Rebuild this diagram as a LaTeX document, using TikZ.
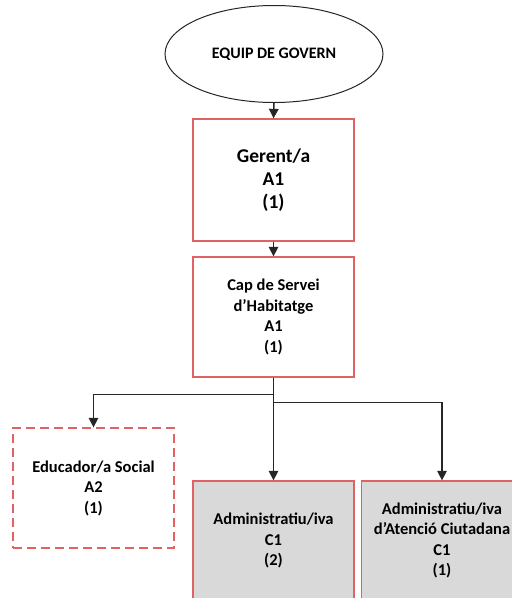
\documentclass[tikz,border=0pt]{standalone}
\usepackage{fontspec}
\setmainfont{Carlito}
\usetikzlibrary{arrows.meta,shapes.geometric}
\definecolor{boxred}{HTML}{E06262}
\definecolor{boxgray}{HTML}{D9D9D9}
\definecolor{linegray}{HTML}{262626}
\tikzset{
  unit/.style={draw=boxred, line width=1.3pt, minimum width=161pt, inner sep=0pt, align=center, font=\bfseries\fontsize{16.5}{20.5}\selectfont},
  headbox/.style={unit, minimum height=122pt, font=\bfseries\fontsize{19.5}{23}\selectfont},
  dashbox/.style={unit, dash pattern=on 9pt off 5pt},
  graybox/.style={unit, fill=boxgray},
  conn/.style={draw=linegray, line width=1.5pt, -{Triangle[width=9.5pt,length=9.5pt]}}
}
\begin{document}
\begin{tikzpicture}[x=1pt,y=-1pt]
\useasboundingbox (0,0) rectangle (512,598);
\clip (0,0) rectangle (512,598);
\node[ellipse, draw=linegray, line width=1pt, minimum width=218pt, minimum height=97pt, inner sep=0pt, font=\bfseries\fontsize{16}{19}\selectfont] (eq) at (274,54) {EQUIP DE GOVERN};
\node[headbox] (ger) at (273.5,180) {Gerent/a\\A1\\(1)};
\node[unit, minimum height=120pt] (cap) at (273.5,317) {Cap de Servei\\d’Habitatge\\A1\\(1)};
\node[dashbox, minimum height=120pt] (edu) at (93.5,488) {Educador/a Social\\A2\\(1)};
\node[graybox, minimum height=119pt] (adm) at (273.5,540.5) {Administratiu/iva\\C1\\(2)};
\node[graybox, minimum height=119pt] (atc) at (442,540.5) {Administratiu/iva\\d’Atenció Ciutadana\\C1\\(1)};
\draw[conn] (eq.south) -- (ger.north);
\draw[conn] (ger.south) -- (cap.north);
\draw[conn] (cap.south) -- ++(0,17) -| (edu.north);
\draw[conn] (cap.south) -- (adm.north);
\draw[conn] (cap.south) -- ++(0,25) -| (atc.north);
\end{tikzpicture}
\end{document}
